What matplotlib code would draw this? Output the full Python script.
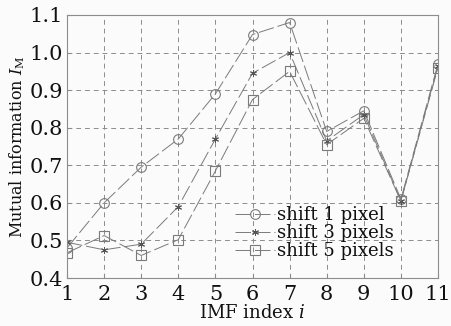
import matplotlib.pyplot as plt

plt.rcParams['font.family'] = ['DejaVu Serif']
plt.rcParams['mathtext.fontset'] = 'dejavuserif'

imf_index = [1, 2, 3, 4, 5, 6, 7, 8, 9, 10, 11]
shift1 = [0.48, 0.60, 0.695, 0.77, 0.89, 1.048, 1.08, 0.79, 0.845, 0.61, 0.97]
shift3 = [0.495, 0.475, 0.49, 0.59, 0.77, 0.945, 1.00, 0.765, 0.835, 0.605, 0.965]
shift5 = [0.467, 0.513, 0.46, 0.502, 0.685, 0.875, 0.95, 0.755, 0.825, 0.605, 0.96]
labels = ['shift 1 pixel', 'shift 3 pixels', 'shift 5 pixels']

line_col = '#7a7a7a'
txt_col = '#111111'

fig = plt.figure(figsize=(4.52, 3.26), dpi=100, facecolor='#fbfbfb')
ax = fig.add_axes([67/452, 48/326, 371/452, 263/326])
ax.set_facecolor('#fbfbfb')

dash = (0, (16, 4))
ax.plot(imf_index, shift1, color=line_col, lw=0.7, ls=dash, marker='o',
        ms=7, mfc='none', mec=line_col, mew=0.8, label=labels[0])
ax.plot(imf_index, shift3, color=line_col, lw=0.7, ls=dash, marker=(6, 2, 0),
        ms=5, mfc='none', mec='#555555', mew=0.7, label=labels[1])
ax.plot(imf_index, shift5, color=line_col, lw=0.7, ls=dash, marker='s',
        ms=7, mfc='none', mec=line_col, mew=0.8, label=labels[2])

ax.set_xlim(1, 11)
ax.set_ylim(0.4, 1.1)
ax.set_xticks(imf_index)
ax.set_yticks([0.4, 0.5, 0.6, 0.7, 0.8, 0.9, 1.0, 1.1])
ax.set_yticklabels(['0.4', '0.5', '0.6', '0.7', '0.8', '0.9', '1.0', '1.1'])
ax.grid(True, ls=(0, (5, 4)), color='#8c8c8c', lw=0.7)
ax.tick_params(axis='both', direction='in', length=3, color='#8c8c8c',
               labelsize=15, labelcolor=txt_col)
ax.tick_params(axis='x', pad=5)
ax.tick_params(axis='y', pad=3)
for s in ax.spines.values():
    s.set_color('#8c8c8c')
    s.set_linewidth(0.8)

ax.set_xlabel('IMF index $i$', fontsize=13, color=txt_col, labelpad=0)
ax.set_ylabel('Mutual information $I_{\\mathrm{M}}$', fontsize=11.5,
              color=txt_col, labelpad=2)

leg = ax.legend(loc='lower right', bbox_to_anchor=(0.90, 0.04), frameon=False,
                fontsize=13, handlelength=2.2, handletextpad=0.1,
                labelspacing=0.0, borderaxespad=0, numpoints=1)
for t in leg.get_texts():
    t.set_color(txt_col)

fig.savefig('out.png', dpi=100, facecolor=fig.get_facecolor())
